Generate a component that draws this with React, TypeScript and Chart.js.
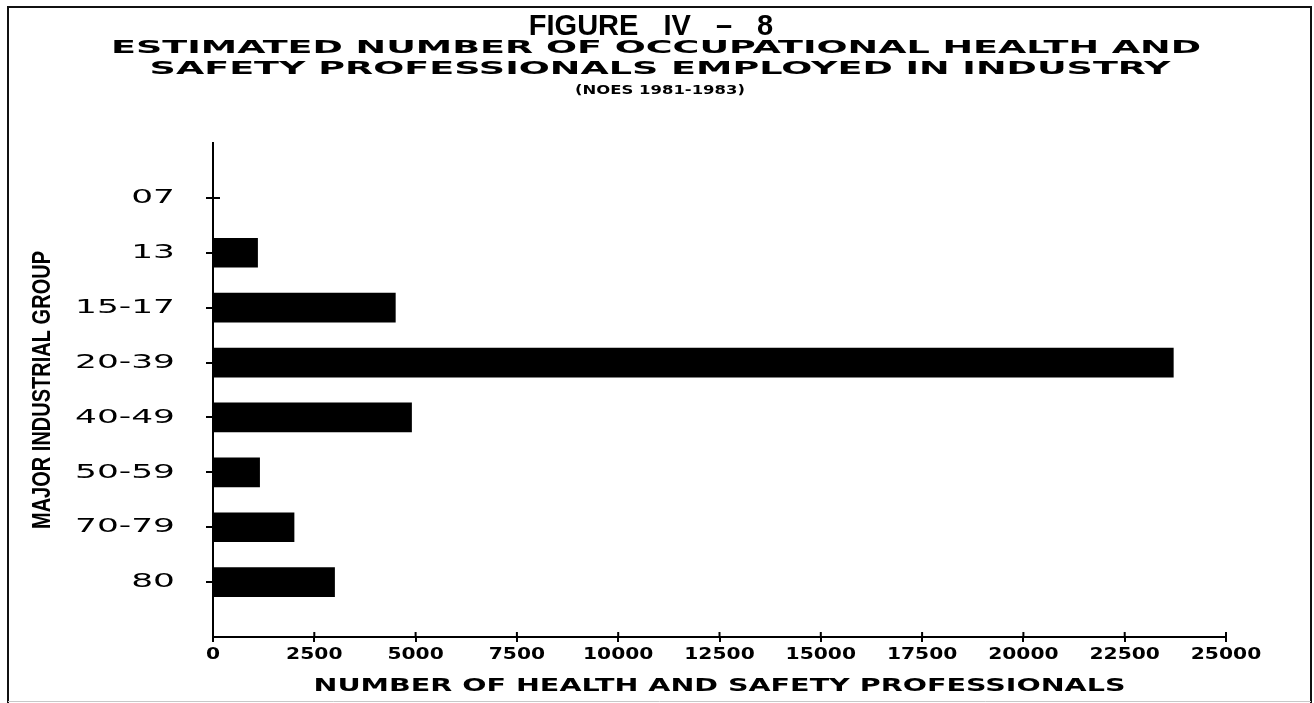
import React, { useEffect, useRef } from 'react';
import { Chart, registerables } from 'chart.js';

Chart.register(...registerables);

// ---- data ----
const groupLabels = ['07', '13', '15-17', '20-39', '40-49', '50-59', '70-79', '80'];
const professionals = [0, 1100, 4500, 23700, 4900, 1150, 2000, 3000];
const xMin = 0;
const xMax = 25000;
const xStep = 2500;

const figureTitle = 'FIGURE IV – 8';
const subtitleLines = [
  'ESTIMATED NUMBER OF OCCUPATIONAL HEALTH AND',
  'SAFETY PROFESSIONALS EMPLOYED IN INDUSTRY',
];
const sourceNote = '(NOES 1981-1983)';
const xAxisTitle = 'NUMBER OF HEALTH AND SAFETY PROFESSIONALS';
const yAxisTitle = 'MAJOR INDUSTRIAL GROUP';

// one empty slot above and below the groups, as on the original axis
const paddedLabels = ['', ...groupLabels, ''];
const paddedValues: (number | null)[] = [null, ...professionals, null];

const W = 1314;
const H = 703;

function stretchedText(
  ctx: CanvasRenderingContext2D,
  text: string,
  x: number,
  y: number,
  font: string,
  sx: number,
  spacing = '0px',
  wordSpacing = '0px'
) {
  ctx.save();
  ctx.font = font;
  (ctx as any).letterSpacing = spacing;
  (ctx as any).wordSpacing = wordSpacing;
  ctx.textAlign = 'center';
  ctx.textBaseline = 'alphabetic';
  ctx.fillStyle = '#000';
  ctx.translate(x, y);
  ctx.scale(sx, 1);
  ctx.fillText(text, 0, 0);
  ctx.restore();
}

const decorPlugin = {
  id: 'decor',
  beforeDraw(chart: any) {
    const ctx: CanvasRenderingContext2D = chart.ctx;
    ctx.save();
    ctx.fillStyle = '#fff';
    ctx.fillRect(0, 0, chart.width, chart.height);
    ctx.restore();

    const xs = chart.scales.x;
    const ys = chart.scales.y;
    if (ys && !ys.__patched) {
      const baseLabels = ys.drawLabels;
      const baseTitle = ys.drawTitle;
      ys.drawLabels = function (area: any) {
        const c = this.ctx;
        const ax = this.right - 7 - 31;
        c.save();
        c.translate(ax, 0);
        c.scale(1.72, 1);
        c.translate(-ax, 0);
        baseLabels.call(this, area);
        c.restore();
      };
      ys.drawTitle = function () {
        const c = this.ctx;
        const cy = (this.top + this.bottom) / 2;
        c.save();
        c.translate(0, cy);
        c.scale(1, 0.77);
        c.translate(0, -cy);
        baseTitle.call(this);
        c.restore();
      };
      ys.__patched = true;
    }
    if (xs && !xs.__patched) {
      const baseTitle = xs.drawTitle;
      // each tick label is drawn at the position the scale computed, stretched wide
      xs.drawLabels = function (area: any) {
        const c = this.ctx;
        const items = this.getLabelItems(area);
        for (const item of items) {
          const { label, font, options } = item;
          const [tx, ty] = options.translation;
          c.save();
          c.translate(tx, ty);
          c.scale(1.35, 1);
          c.font = font.string;
          c.fillStyle = options.color || '#000';
          c.textAlign = 'center';
          c.textBaseline = options.textBaseline || 'middle';
          c.fillText(String(label), 0, item.textOffset || 0);
          c.restore();
        }
      };
      xs.drawTitle = function () {
        const c = this.ctx;
        const cx = (this.left + this.right) / 2;
        c.save();
        c.translate(cx, 0);
        c.scale(1.68, 1);
        c.translate(-cx, 0);
        baseTitle.call(this);
        c.restore();
      };
      xs.__patched = true;
    }
  },
  afterDraw(chart: any) {
    const ctx: CanvasRenderingContext2D = chart.ctx;
    const xs = chart.scales.x;
    const ys = chart.scales.y;

    // inner halves of the cross-shaped tick marks
    ctx.save();
    ctx.strokeStyle = '#000';
    ctx.lineWidth = 2;
    ctx.beginPath();
    for (let i = 1; i < paddedLabels.length - 1; i++) {
      const py = ys.getPixelForValue(i);
      ctx.moveTo(ys.right, py);
      ctx.lineTo(ys.right + 7, py);
    }
    const nx = xs.ticks.length;
    for (let i = 0; i < nx; i++) {
      const px = xs.getPixelForTick(i);
      ctx.moveTo(px, xs.top);
      ctx.lineTo(px, xs.top - 5);
    }
    ctx.stroke();
    ctx.restore();

    // frame
    ctx.save();
    ctx.strokeStyle = '#111';
    ctx.lineWidth = 2;
    ctx.beginPath();
    ctx.moveTo(8, H);
    ctx.lineTo(8, 7);
    ctx.lineTo(1311, 7);
    ctx.lineTo(1311, H);
    ctx.stroke();
    ctx.strokeStyle = '#c8c8c8';
    ctx.lineWidth = 1;
    ctx.beginPath();
    ctx.moveTo(8, 701.5);
    ctx.lineTo(1311, 701.5);
    ctx.stroke();
    ctx.restore();

    // titles
    stretchedText(ctx, figureTitle, 651, 35, "bold 29px 'Liberation Sans'", 1, '0px', '17px');
    stretchedText(ctx, subtitleLines[0], 656, 53, "bold 17px 'DejaVu Sans'", 2.15);
    stretchedText(ctx, subtitleLines[1], 660, 74, "bold 17px 'DejaVu Sans'", 2.15);
    stretchedText(ctx, sourceNote, 660, 94, "bold 12px 'DejaVu Sans'", 1.37);
  },
};

export default function App() {
  const canvasRef = useRef<HTMLCanvasElement | null>(null);

  useEffect(() => {
    const canvas = canvasRef.current;
    if (!canvas) return;
    const chart = new Chart(canvas, {
      type: 'bar',
      data: {
        labels: paddedLabels,
        datasets: [
          {
            data: paddedValues as any,
            backgroundColor: '#000',
            borderWidth: 0,
            barThickness: 29,
          },
        ],
      },
      options: {
        responsive: false,
        animation: false,
        devicePixelRatio: 1,
        indexAxis: 'y',
        layout: { padding: { top: 143, right: 88, bottom: 0, left: 0 } },
        plugins: {
          legend: { display: false },
          tooltip: { enabled: false },
          title: { display: false },
        },
        scales: {
          x: {
            type: 'linear',
            min: xMin,
            max: xMax,
            grid: {
              drawOnChartArea: false,
              drawTicks: true,
              tickLength: 5,
              color: '#000',
              lineWidth: 2,
            },
            border: { display: true, color: '#000', width: 2 },
            ticks: {
              stepSize: xStep,
              autoSkip: false,
              maxRotation: 0,
              color: '#000',
              padding: 4,
              font: { family: "'DejaVu Sans'", weight: 'bold', size: 15 },
              callback: (v: any) => String(v),
            },
            title: {
              display: true,
              text: xAxisTitle,
              color: '#000',
              font: { family: "'DejaVu Sans'", weight: 'bold', size: 17, lineHeight: 1.2 },
              padding: { top: 0, bottom: 6 },
            },
            afterFit: (s: any) => {
              s.height = 66;
            },
          },
          y: {
            type: 'category',
            offset: false,
            grid: {
              offset: false,
              drawOnChartArea: false,
              tickLength: 7,
              lineWidth: 2,
              color: (c: any) =>
                c.index === 0 || c.index === paddedLabels.length - 1 ? 'rgba(0,0,0,0)' : '#000',
            },
            border: { display: true, color: '#000', width: 2 },
            ticks: {
              autoSkip: false,
              padding: 31,
              color: '#000',
              font: { family: "'DejaVu Sans'", size: 20 },
            },
            title: {
              display: true,
              text: yAxisTitle,
              color: '#000',
              font: { family: "'Liberation Sans'", weight: 'bold', size: 26, lineHeight: 1.2 },
              padding: { top: 27, bottom: 0 },
            },
            afterFit: (s: any) => {
              s.width = 213;
            },
          },
        },
      } as any,
      plugins: [decorPlugin as any],
    });
    return () => chart.destroy();
  }, []);

  return (
    <div style={{ position: 'absolute', left: 0, top: 0, width: W, height: H, background: '#fff' }}>
      <canvas ref={canvasRef} width={W} height={H} style={{ display: 'block' }} />
    </div>
  );
}
